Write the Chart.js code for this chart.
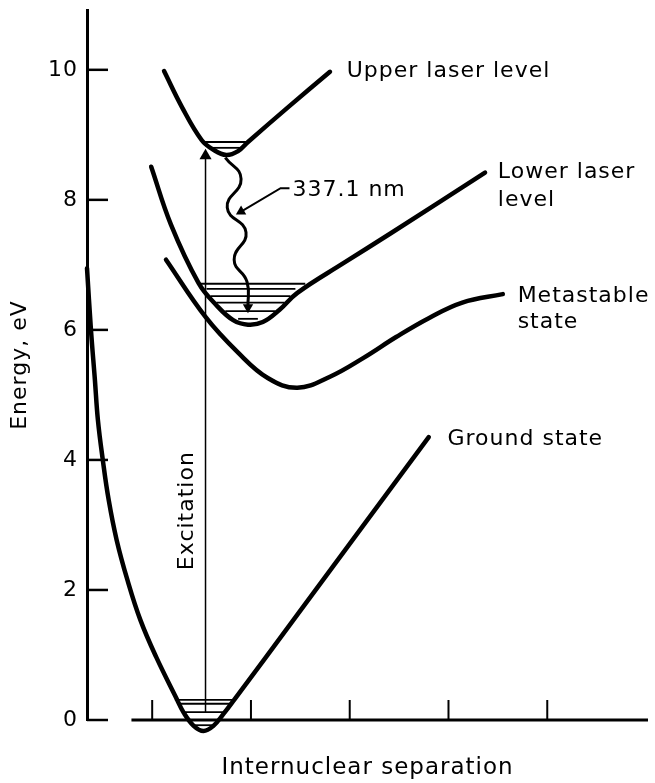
<!DOCTYPE html>
<html>
<head>
<meta charset="utf-8">
<title>Nitrogen laser levels</title>
<script src="https://cdn.jsdelivr.net/npm/chart.js@4.4.1/dist/chart.umd.min.js"></script>
<style>
  html, body { margin: 0; padding: 0; background: #fff; }
  canvas { display: block; }
</style>
</head>
<body>
<canvas id="levelChart" width="655" height="783"></canvas>
<script>
// x = internuclear separation (arbitrary units), y = energy in eV
const xTicks = [1, 2, 3, 4, 5];
const yTicks = [0, 2, 4, 6, 8, 10];

const groundX = [0.34, 0.38, 0.42, 0.45, 0.50, 0.56, 0.64, 0.75, 0.88, 1.04, 1.24, 1.32, 1.42, 1.52, 1.62, 1.72, 1.83, 2.47, 3.17, 3.80];
const groundY = [6.95, 6.00, 5.23, 4.62, 4.00, 3.38, 2.77, 2.15, 1.54, 0.97, 0.35, 0.11, -0.09, -0.17, -0.09, 0.09, 0.31, 1.62, 3.06, 4.35];

const upperX = [1.12, 1.30, 1.50, 1.62, 1.75, 1.87, 1.97, 2.38, 2.80];
const upperY = [9.98, 9.43, 8.92, 8.77, 8.69, 8.75, 8.89, 9.43, 9.97];

const lowerX = [0.99, 1.19, 1.47, 1.65, 1.82, 1.97, 2.12, 2.29, 2.47, 2.94, 3.42, 4.37];
const lowerY = [8.51, 7.62, 6.72, 6.38, 6.15, 6.08, 6.12, 6.31, 6.57, 7.03, 7.49, 8.42];

const metaX = [1.14, 1.54, 1.87, 2.17, 2.47, 2.80, 3.14, 3.47, 3.80, 4.14, 4.55];
const metaY = [7.08, 6.20, 5.65, 5.26, 5.11, 5.28, 5.57, 5.89, 6.18, 6.42, 6.55];

// vibrational levels: energy, left end, right end
const groundVibY = [0.31, 0.25, 0.12, -0.08];
const groundVibFrom = [1.23, 1.26, 1.32, 1.40];
const groundVibTo = [1.83, 1.80, 1.75, 1.64];

const upperVibY = [8.89, 8.80];
const upperVibFrom = [1.52, 1.60];
const upperVibTo = [1.97, 1.90];

const lowerVibY = [6.71, 6.63, 6.52, 6.42, 6.29, 6.17];
const lowerVibFrom = [1.49, 1.55, 1.59, 1.65, 1.74, 1.87];
const lowerVibTo = [2.55, 2.45, 2.40, 2.34, 2.25, 2.07];

// excitation arrow and 337.1 nm emission
const excitX = [1.54, 1.54];
const excitY = [0.12, 8.68];
const waveX = [1.74, 1.90, 1.76, 1.95, 1.83, 1.96, 1.97];
const waveY = [8.65, 8.32, 7.88, 7.50, 7.08, 6.74, 6.35];
const leaderX = [2.39, 2.30, 1.90];
const leaderY = [8.18, 8.18, 7.82];

const notes = [
    { text: 'Upper laser level', x: 2.97, y: 9.98 },
    { text: '337.1 nm', x: 2.42, y: 8.15 },
    { text: 'Lower laser', x: 4.50, y: 8.42 },
    { text: 'level', x: 4.50, y: 8.00 },
    { text: 'Metastable', x: 4.70, y: 6.51 },
    { text: 'state', x: 4.70, y: 6.12 },
    { text: 'Ground state', x: 3.99, y: 4.31 },
    { text: 'Excitation', x: 1.36, y: 3.22, rotate: true }
];

const pts = (xs, ys) => xs.map((x, i) => ({ x: x, y: ys[i] }));

function curve(xs, ys) {
    return { data: pts(xs, ys), showLine: true, borderColor: '#000', borderWidth: 4.5,
        pointRadius: 0, tension: 0.4, borderCapStyle: 'round', clip: false };
}

function levels(ys, from, to) {
    return ys.map((v, i) => ({ data: [{ x: from[i], y: v }, { x: to[i], y: v }], showLine: true,
        borderColor: '#000', borderWidth: 1.8, pointRadius: 0, clip: false }));
}

const datasets = [
    curve(groundX, groundY),
    curve(upperX, upperY),
    curve(lowerX, lowerY),
    curve(metaX, metaY),
    ...levels(groundVibY, groundVibFrom, groundVibTo),
    ...levels(upperVibY, upperVibFrom, upperVibTo),
    ...levels(lowerVibY, lowerVibFrom, lowerVibTo),
    { data: pts(excitX, excitY), showLine: true, borderColor: '#000', borderWidth: 1.5,
      pointRadius: [0, 7], pointStyle: 'triangle', pointBackgroundColor: '#000', pointBorderWidth: 0, clip: false },
    { data: pts(waveX, waveY), showLine: true, borderColor: '#000', borderWidth: 3, tension: 0.5,
      pointRadius: [0, 0, 0, 0, 0, 0, 6], pointStyle: 'triangle', pointRotation: 180,
      pointBackgroundColor: '#000', pointBorderWidth: 0, clip: false },
    { data: pts(leaderX, leaderY), showLine: true, borderColor: '#000', borderWidth: 2,
      pointRadius: [0, 0, 6], pointStyle: 'triangle', pointRotation: 240,
      pointBackgroundColor: '#000', pointBorderWidth: 0, clip: false }
];

const decor = {
    id: 'decor',
    beforeDraw(chart) {
        chart.ctx.letterSpacing = '1px';
    },
    afterDraw(chart) {
        const { ctx, scales: { x, y } } = chart;
        ctx.save();
        ctx.strokeStyle = '#000';
        // energy ticks point into the plot
        ctx.lineWidth = 2.5;
        yTicks.forEach(v => {
            const py = y.getPixelForValue(v);
            ctx.beginPath(); ctx.moveTo(x.left, py); ctx.lineTo(x.left + 21, py); ctx.stroke();
        });
        // separation axis starts a little right of the energy axis
        const y0 = y.getPixelForValue(0);
        ctx.lineWidth = 3;
        ctx.beginPath(); ctx.moveTo(x.getPixelForValue(0.79), y0); ctx.lineTo(x.right, y0); ctx.stroke();
        ctx.lineWidth = 2;
        xTicks.forEach(v => {
            const px = x.getPixelForValue(v);
            ctx.beginPath(); ctx.moveTo(px, y0); ctx.lineTo(px, y0 - 20); ctx.stroke();
        });
        ctx.fillStyle = '#000';
        ctx.font = '22px "DejaVu Sans"';
        ctx.letterSpacing = '1px';
        ctx.textBaseline = 'middle';
        notes.forEach(n => {
            const px = x.getPixelForValue(n.x), py = y.getPixelForValue(n.y);
            if (n.rotate) {
                ctx.save();
                ctx.translate(px, py);
                ctx.rotate(-Math.PI / 2);
                ctx.textAlign = 'center';
                ctx.fillText(n.text, 0, 0);
                ctx.restore();
            } else {
                ctx.textAlign = 'left';
                ctx.fillText(n.text, px, py);
            }
        });
        ctx.restore();
    }
};

Chart.defaults.font.family = '"DejaVu Sans", sans-serif';
Chart.defaults.color = '#000';

new Chart(document.getElementById('levelChart'), {
    type: 'scatter',
    data: { datasets: datasets },
    options: {
        responsive: false,
        animation: false,
        devicePixelRatio: 1,
        layout: { padding: { top: 10, right: 0, left: 0, bottom: 0 } },
        plugins: { legend: { display: false }, tooltip: { enabled: false } },
        scales: {
            x: {
                type: 'linear', min: 0.34, max: 6.02,
                afterBuildTicks: s => { s.ticks = xTicks.map(v => ({ value: v })); },
                afterFit: s => { s.height = 63; s.paddingLeft = 0; s.paddingRight = 0; },
                ticks: { display: false },
                grid: { drawOnChartArea: false, drawTicks: false },
                border: { display: false },
                title: { display: true, text: 'Internuclear separation', font: { size: 23 }, padding: { top: 0, bottom: 1 } }
            },
            y: {
                type: 'linear', min: 0, max: 10.92,
                afterBuildTicks: s => { s.ticks = yTicks.map(v => ({ value: v })); },
                afterFit: s => { s.width = 87; s.paddingTop = 0; s.paddingBottom = 0; },
                ticks: { font: { size: 22 }, padding: 9 },
                grid: { drawOnChartArea: false, drawTicks: false },
                border: { display: true, color: '#000', width: 3 },
                title: { display: true, text: 'Energy, eV', font: { size: 22 }, padding: { top: 7, bottom: 0 } }
            }
        }
    },
    plugins: [decor]
});
</script>
</body>
</html>
